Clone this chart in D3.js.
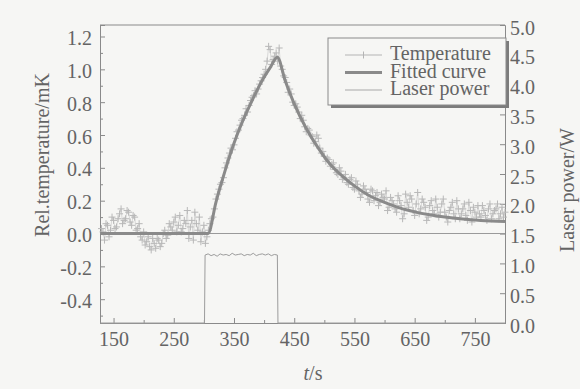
<!DOCTYPE html>
<html>
<head>
<meta charset="utf-8">
<script src="https://cdn.jsdelivr.net/npm/d3@7"></script>
<style>
  html, body { margin: 0; padding: 0; background: #f6f6f4; }
  #chart { width: 580px; height: 389px; }
  text { font-family: "Liberation Serif", "Times New Roman", serif; fill: #646464; }
</style>
</head>
<body>
<div id="chart"></div>
<script>
// ----------------------------------
// DATA
// ----------------------------------

// temperature samples, every 5 s
const tempTime = [
  130, 135, 140, 145, 150, 155, 160, 165, 170, 175, 180, 185, 190, 195, 200, 205, 210, 215,
  220, 225, 230, 235, 240, 245, 250, 255, 260, 265, 270, 275, 280, 285, 290, 295, 300, 305,
  310, 315, 320, 325, 330, 335, 340, 345, 350, 355, 360, 365, 370, 375, 380, 385, 390, 395,
  400, 405, 410, 415, 420, 425, 430, 435, 440, 445, 450, 455, 460, 465, 470, 475, 480, 485,
  490, 495, 500, 505, 510, 515, 520, 525, 530, 535, 540, 545, 550, 555, 560, 565, 570, 575,
  580, 585, 590, 595, 600, 605, 610, 615, 620, 625, 630, 635, 640, 645, 650, 655, 660, 665,
  670, 675, 680, 685, 690, 695, 700, 705, 710, 715, 720, 725, 730, 735, 740, 745, 750, 755,
  760, 765, 770, 775, 780, 785, 790, 795, 800
];
const tempValue = [
  0.03, -0.04, 0.05, 0.02, 0.08, 0.04, 0.12, 0.06, 0.09, 0.13, 0.05, 0.10, 0.03, -0.02, 0.01, -0.05, -0.08, -0.03,
  -0.09, -0.04, -0.06, 0.02, -0.01, 0.04, 0.07, 0.01, 0.11, 0.03, 0.06, -0.03, 0.08, 0.13, 0.02, -0.05, 0.05, -0.02,
  0.06, 0.10, 0.21, 0.27, 0.31, 0.40, 0.46, 0.52, 0.54, 0.62, 0.66, 0.70, 0.76, 0.78, 0.83, 0.87, 0.88, 0.93,
  0.97, 1.05, 1.12, 1.06, 1.10, 1.13, 1.00, 0.95, 0.86, 0.85, 0.78, 0.77, 0.70, 0.69, 0.62, 0.63, 0.59, 0.56,
  0.58, 0.49, 0.47, 0.46, 0.41, 0.43, 0.37, 0.40, 0.33, 0.36, 0.30, 0.34, 0.27, 0.30, 0.22, 0.29, 0.25, 0.19,
  0.26, 0.23, 0.17, 0.24, 0.21, 0.14, 0.22, 0.18, 0.13, 0.20, 0.09, 0.24, 0.16, 0.21, 0.11, 0.25, 0.15, 0.19,
  0.08, 0.17, 0.14, 0.21, 0.10, 0.18, 0.13, 0.07, 0.16, 0.12, 0.20, 0.09, 0.15, 0.11, 0.19, 0.07, 0.13, 0.17,
  0.10, 0.14, 0.08, 0.18, 0.12, 0.15, 0.09, 0.16, 0.13
];

// in-between temperature samples, [t, value]
const tempHalfSteps = [
  [132.5, 0.01], [137.5, 0.06], [142.5, -0.02], [147.5, 0.10], [152.5, 0.03], [157.5, 0.09],
  [162.5, 0.15], [167.5, 0.08], [172.5, 0.14], [177.5, 0.07], [182.5, 0.11], [187.5, 0.02],
  [192.5, 0.06], [197.5, -0.04], [202.5, -0.07], [207.5, -0.02], [212.5, -0.10], [217.5, -0.06],
  [222.5, -0.03], [227.5, -0.08], [232.5, 0.00], [237.5, -0.03], [242.5, 0.06], [247.5, 0.02],
  [252.5, 0.10], [257.5, 0.05], [262.5, 0.01], [267.5, 0.08], [272.5, 0.14], [277.5, 0.04],
  [282.5, -0.04], [287.5, 0.06], [292.5, 0.10], [297.5, 0.01], [302.5, -0.06],
  [307.5, 0.02], [312.5, 0.09], [317.5, 0.15], [322.5, 0.24], [327.5, 0.30], [332.5, 0.34],
  [337.5, 0.43], [342.5, 0.49], [347.5, 0.51], [352.5, 0.58], [357.5, 0.63], [362.5, 0.69],
  [367.5, 0.72], [372.5, 0.74], [377.5, 0.81], [382.5, 0.84], [387.5, 0.85], [392.5, 0.91],
  [397.5, 0.95], [402.5, 1.00], [407.5, 1.14], [412.5, 1.03], [417.5, 1.08], [422.5, 1.05],
  [427.5, 1.02], [432.5, 0.96], [437.5, 0.92], [442.5, 0.88], [447.5, 0.80], [452.5, 0.79],
  [457.5, 0.74], [462.5, 0.72], [467.5, 0.65], [472.5, 0.64], [477.5, 0.60], [482.5, 0.55],
  [487.5, 0.60], [492.5, 0.52], [497.5, 0.50], [502.5, 0.44], [507.5, 0.45], [512.5, 0.42],
  [517.5, 0.39], [522.5, 0.36], [527.5, 0.38], [532.5, 0.34], [537.5, 0.31], [542.5, 0.33],
  [547.5, 0.28], [552.5, 0.32], [557.5, 0.26], [562.5, 0.24], [567.5, 0.27], [572.5, 0.21],
  [577.5, 0.27], [582.5, 0.20], [587.5, 0.25], [592.5, 0.19], [597.5, 0.22], [602.5, 0.26],
  [607.5, 0.16], [612.5, 0.20], [617.5, 0.15], [622.5, 0.23], [627.5, 0.17], [632.5, 0.12],
  [637.5, 0.19], [642.5, 0.23], [647.5, 0.14], [652.5, 0.18], [657.5, 0.12], [662.5, 0.21],
  [667.5, 0.16], [672.5, 0.10], [677.5, 0.20], [682.5, 0.12], [687.5, 0.16], [692.5, 0.13],
  [697.5, 0.21], [702.5, 0.10], [707.5, 0.14], [712.5, 0.19], [717.5, 0.09], [722.5, 0.15],
  [727.5, 0.12], [732.5, 0.18], [737.5, 0.08], [742.5, 0.14], [747.5, 0.16], [752.5, 0.10],
  [757.5, 0.12], [762.5, 0.17], [767.5, 0.11], [772.5, 0.15], [777.5, 0.09], [782.5, 0.14],
  [787.5, 0.18], [792.5, 0.12], [797.5, 0.10]
];

const fitTime = [128, 307, 320, 335, 350, 365, 380, 395, 410, 422, 435, 450, 470, 490, 510, 530, 550,
  575, 600, 625, 650, 675, 700, 730, 760, 800];
const fitValue = [0, 0, 0.19, 0.38, 0.55, 0.69, 0.81, 0.92, 1.01, 1.074, 0.93, 0.79, 0.64, 0.52, 0.42, 0.35, 0.29,
  0.23, 0.19, 0.156, 0.132, 0.114, 0.100, 0.088, 0.080, 0.073];

const laserTime = [128, 301, 302, 307, 312, 317, 322, 327, 332, 337, 342, 347, 352, 357, 362, 367, 372,
  377, 382, 387, 392, 397, 402, 407, 412, 417, 422, 423, 800];
const laserPower = [0, 0, 1.14, 1.16, 1.13, 1.15, 1.12, 1.16, 1.14, 1.15, 1.13, 1.17, 1.14, 1.15, 1.16, 1.13, 1.15,
  1.14, 1.17, 1.13, 1.15, 1.16, 1.14, 1.16, 1.13, 1.15, 1.14, 0, 0];

const xTicks = [150, 250, 350, 450, 550, 650, 750];
const yLeftTicks = [-0.4, -0.2, 0.0, 0.2, 0.4, 0.6, 0.8, 1.0, 1.2];
const yRightTicks = [0, 0.5, 1.0, 1.5, 2.0, 2.5, 3.0, 3.5, 4.0, 4.5, 5.0];
const legendLabels = ['Temperature', 'Fitted curve', 'Laser power'];

// ----------------------------------
// LAYOUT
// ----------------------------------

const width = 580, height = 389;
const margin = {top: 25, right: 75, bottom: 66, left: 100};
const innerWidth = width - margin.left - margin.right,
      innerHeight = height - margin.top - margin.bottom;

const axisColor = '#8a8a8a';

const svg = d3.select('#chart').append('svg')
  .attr('width', width)
  .attr('height', height);

const g = svg.append('g')
  .attr('transform', `translate(${margin.left},${margin.top})`);

// scales
const x = d3.scaleLinear().domain([127.5, 800]).range([0, innerWidth]);
const yL = d3.scaleLinear().domain([-0.545, 1.27]).range([innerHeight, 0]);
const yR = d3.scaleLinear().domain([0, 5]).range([innerHeight, 0]);

// ----------------------------------
// AXES (ticks point inward)
// ----------------------------------

// one decimal, plain hyphen for negatives as in the print
const fmt1 = d => d3.format('.1f')(d).replace('\u2212', '-');

const xAxis = g.append('g')
  .attr('transform', `translate(0,${innerHeight})`)
  .call(d3.axisBottom(x).tickValues(xTicks).tickSize(-5).tickPadding(17));
const xMinor = g.append('g')
  .attr('transform', `translate(0,${innerHeight})`)
  .call(d3.axisBottom(x).tickValues([200, 300, 400, 500, 600, 700]).tickSize(-3).tickFormat(''));

const yAxisL = g.append('g')
  .call(d3.axisLeft(yL).tickValues(yLeftTicks).tickSize(-5).tickPadding(8).tickFormat(fmt1));
const yMinorL = g.append('g')
  .call(d3.axisLeft(yL).tickValues([-0.5, -0.3, -0.1, 0.1, 0.3, 0.5, 0.7, 0.9, 1.1]).tickSize(-3).tickFormat(''));

const yAxisR = g.append('g')
  .attr('transform', `translate(${innerWidth},0)`)
  .call(d3.axisRight(yR).tickValues(yRightTicks).tickSize(-5).tickPadding(5).tickFormat(fmt1));

[xAxis, xMinor, yAxisL, yMinorL, yAxisR].forEach(a => {
  a.attr('font-family', null).attr('font-size', null);
  a.selectAll('.domain').attr('stroke', axisColor);
  a.selectAll('.tick line').attr('stroke', axisColor);
  a.selectAll('text')
    .style('font-family', '"Liberation Serif", serif')
    .style('font-size', '20px')
    .attr('fill', '#646464');
});
xAxis.selectAll('text').attr('dy', '0.3em');
yAxisL.selectAll('text').attr('dy', '0.4em');
yAxisR.selectAll('text').attr('dy', '0.45em');

// top frame
g.append('line')
  .attr('x1', 0).attr('x2', innerWidth)
  .attr('y1', 0).attr('y2', 0)
  .attr('stroke', axisColor);

// ----------------------------------
// SERIES
// ----------------------------------

// zero reference line
g.append('line')
  .attr('x1', 0).attr('x2', innerWidth)
  .attr('y1', yL(0)).attr('y2', yL(0))
  .attr('stroke', '#9a9a9a')
  .attr('stroke-width', 1.2);

// laser power
const laserLine = d3.line().x(d => x(d[0])).y(d => yR(d[1]));
g.append('path')
  .datum(d3.zip(laserTime, laserPower))
  .attr('d', laserLine)
  .attr('fill', 'none')
  .attr('stroke', '#9c9c9c')
  .attr('stroke-width', 1);

// temperature (+ markers joined by a thin line)
const tempData = d3.zip(tempTime, tempValue)
  .concat(tempHalfSteps)
  .sort((a, b) => a[0] - b[0]);
const tLine = d3.line().x(d => x(d[0])).y(d => yL(d[1]));
g.append('path')
  .datum(tempData)
  .attr('d', tLine)
  .attr('fill', 'none')
  .attr('stroke', '#cacaca')
  .attr('stroke-width', 0.7);

g.append('g')
  .selectAll('path')
  .data(tempData)
  .join('path')
  .attr('transform', d => `translate(${x(d[0])},${yL(d[1])})`)
  .attr('d', 'M-3.5,0H3.5M0,-3.5V3.5')
  .attr('stroke', '#b8b8b8')
  .attr('stroke-width', 1);

// fitted curve
g.append('path')
  .datum(d3.zip(fitTime, fitValue))
  .attr('d', d3.line().curve(d3.curveMonotoneX).x(d => x(d[0])).y(d => yL(d[1])))
  .attr('fill', 'none')
  .attr('stroke', '#8a8a8a')
  .attr('stroke-width', 3);

// ----------------------------------
// LEGEND
// ----------------------------------

const legend = svg.append('g').attr('transform', 'translate(328,38)');
legend.append('rect')
  .attr('x', 3).attr('y', 3).attr('width', 178).attr('height', 67)
  .attr('fill', '#7c7c7c');
legend.append('rect')
  .attr('x', 0).attr('y', 0).attr('width', 178).attr('height', 67)
  .attr('fill', '#f6f6f4')
  .attr('stroke', axisColor);

const rows = legend.selectAll('g.row')
  .data(legendLabels)
  .join('g')
  .attr('class', 'row')
  .attr('transform', (d, i) => `translate(0,${22 + i * 17.5})`);

rows.append('text')
  .attr('x', 62)
  .attr('y', 0)
  .style('font-size', '20px')
  .text(d => d);

rows.append('line')
  .attr('x1', 17).attr('x2', 54)
  .attr('y1', -5).attr('y2', -5)
  .attr('stroke', (d, i) => ['#b4b4b4', '#8a8a8a', '#a8a8a8'][i])
  .attr('stroke-width', (d, i) => [1, 3, 1][i]);

rows.filter((d, i) => i === 0).append('path')
  .attr('d', 'M35.5,-8.5V-1.5')
  .attr('stroke', '#b4b4b4');

// ----------------------------------
// AXIS TITLES
// ----------------------------------

svg.append('text')
  .attr('transform', `translate(49,${margin.top + 130}) rotate(-90)`)
  .attr('text-anchor', 'middle')
  .style('font-size', '20px')
  .text('Rel.temperature/mK');

svg.append('text')
  .attr('transform', `translate(574,190) rotate(-90)`)
  .attr('text-anchor', 'middle')
  .style('font-size', '20px')
  .text('Laser power/W');

const xt = svg.append('text')
  .attr('x', 313)
  .attr('y', 380)
  .attr('text-anchor', 'middle')
  .style('font-size', '20px');
xt.append('tspan').style('font-style', 'italic').text('t');
xt.append('tspan').text('/s');
</script>
</body>
</html>
